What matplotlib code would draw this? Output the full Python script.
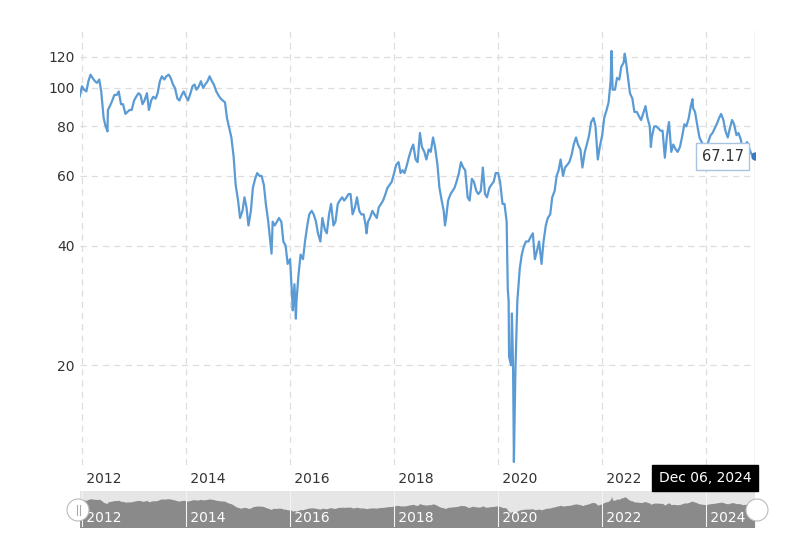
import pandas as pd
import matplotlib
matplotlib.use('Agg')
import matplotlib.pyplot as plt
from matplotlib.patches import Ellipse
from matplotlib.ticker import NullLocator, FixedLocator
import matplotlib.transforms as mtransforms

# price on the 1st and 15th of each month
price_2011 = [95]
price_2012 = [101, 99, 98, 104, 108, 106, 104, 103, 105, 98, 84, 80,
              88, 90, 93, 96, 96, 98, 91, 91, 86, 87, 88, 88]
price_2013 = [93, 95, 97, 96, 91, 93, 97, 88, 93, 95, 94, 97,
              104, 107, 105, 107, 108, 106, 102, 100, 94, 93, 96, 98]
price_2014 = [95, 93, 97, 101, 102, 99, 101, 104, 100, 102, 104, 107,
              104, 102, 98, 96, 94, 93, 92, 84, 79, 75, 67, 57]
price_2015 = [52, 47, 49, 53, 50, 45, 49, 56, 59, 61, 60, 60,
              57, 51, 46, 41, 46, 45, 46, 47, 46, 41, 40, 36]
price_2016 = [37, 30, 32, 29, 34, 38, 37, 41, 45, 48, 49, 48,
              46, 43, 41, 47, 44, 43, 48, 51, 45, 46, 51, 52]
price_2017 = [53, 52, 53, 54, 54, 48, 50, 53, 49, 48, 48, 45,
              46, 47, 49, 48, 47, 50, 51, 52, 54, 56, 57, 58]
price_2018 = [61, 64, 65, 61, 62, 61, 64, 67, 70, 72, 66, 65,
              77, 71, 69, 66, 70, 69, 75, 71, 64, 56, 52, 49]
price_2019 = [47, 52, 54, 55, 56, 58, 61, 65, 63, 62, 53, 52,
              59, 58, 55, 54, 55, 62, 54, 53, 56, 57, 58, 61]
price_2020 = [61, 58, 51, 51, 46, 29, 20, 20, 19, 29, 35, 38,
              40, 41, 41, 42, 43, 37, 39, 41, 36, 41, 45, 47]
price_2021 = [48, 53, 55, 60, 62, 66, 60, 63, 64, 65, 68, 72,
              75, 72, 70, 63, 69, 72, 76, 82, 84, 80, 66, 71]
price_2022 = [76, 84, 88, 92, 104, 99, 99, 106, 105, 113, 116, 118,
              106, 97, 94, 87, 87, 85, 83, 86, 90, 84, 80, 75]
price_2023 = [80, 80, 79, 78, 78, 68, 76, 82, 69, 72, 70, 69,
              71, 75, 81, 80, 84, 90, 89, 87, 80, 75, 73, 71]
price_2024 = [71, 73, 76, 77, 79, 81, 84, 86, 83, 78, 75, 79,
              83, 81, 76, 77, 74, 69, 72, 73, 70, 68, 68]

# sharp highs and lows that fall between the sample dates
spike_dates = ['2012-06-28', '2015-08-24', '2016-01-20', '2016-02-11',
               '2017-06-21', '2018-12-24', '2019-09-16', '2020-03-09',
               '2020-03-18', '2020-04-07', '2020-04-21', '2022-03-08',
               '2022-06-08', '2022-12-09', '2023-03-17', '2023-09-27']
spike_vals = [77.7, 38.2, 27.5, 26.2, 43, 45, 63, 31,
              21, 27, 11.4, 124, 122, 71, 66.7, 93.7]

last_date = '2024-12-06'
last_price = 67.17

y_ticks = [20, 40, 60, 80, 100, 120]
year_ticks = [2012, 2014, 2016, 2018, 2020, 2022, 2024]

values = (price_2011 + price_2012 + price_2013 + price_2014 + price_2015 +
          price_2016 + price_2017 + price_2018 + price_2019 + price_2020 +
          price_2021 + price_2022 + price_2023 + price_2024)
dates = pd.date_range('2011-12-15', '2024-12-01', freq='SMS')
series = pd.Series(values, index=dates)
extra = pd.Series(spike_vals + [last_price],
                  index=pd.to_datetime(spike_dates + [last_date]))
series = pd.concat([series, extra]).sort_index()

line_color = '#5b9bd5'
grid_color = '#dddddd'
x_min = pd.Timestamp('2011-12-18')
x_max = pd.Timestamp('2024-12-09')

fig = plt.figure(figsize=(8, 5.5), dpi=100)

# main chart
ax = fig.add_axes([80 / 800, 1 - 465 / 550, 675 / 800, 435 / 550])
ax.plot(series.index, series.values, color=line_color, lw=1.6, zorder=3)
ax.set_yscale('log')
ax.set_ylim(11.2, 140)
ax.set_xlim(x_min, x_max)
ax.yaxis.set_major_locator(FixedLocator(y_ticks))
ax.yaxis.set_minor_locator(NullLocator())
ax.set_yticklabels([str(v) for v in y_ticks])
ax.tick_params(axis='y', length=0, pad=4, labelsize=10, labelcolor='#333333')
ax.set_xticks([])
for s in ax.spines.values():
    s.set_visible(False)

for v in y_ticks:
    ax.axhline(v, color=grid_color, lw=0.9, ls=(0, (5, 4)), zorder=1)

trans = mtransforms.blended_transform_factory(ax.transData, ax.transAxes)
for yr in year_ticks:
    d = pd.Timestamp(f'{yr}-01-01')
    ax.axvline(d, color=grid_color, lw=0.9, ls=(0, (5, 4)), zorder=1)
    # the 2024 label sits under the date box in the reference
    if yr != 2024:
        ax.text(d, -0.015, f' {yr}', transform=trans, ha='left', va='top',
                fontsize=10, color='#333333')

# hover crosshair, marker and tooltip
ax.axvline(pd.Timestamp(last_date), color='#cccccc', lw=1, zorder=2)
ax.plot(pd.Timestamp(last_date), last_price, 'o', ms=5, color='#3a78c2', zorder=4)
ax.annotate(f'{last_price:.2f}', xy=(pd.Timestamp(last_date), last_price),
            xytext=(-32, 0), textcoords='offset pixels', ha='center', va='center',
            fontsize=10.5, color='#333333', zorder=5,
            bbox=dict(boxstyle='square,pad=0.4', fc='white', ec='#a9c4e0', lw=1))

fig.text(705 / 800, 1 - 478 / 550, 'Dec 06, 2024', ha='center', va='center',
         fontsize=10, color='white',
         bbox=dict(boxstyle='square,pad=0.45', fc='black', ec='black'))

# navigator strip
nav = fig.add_axes([80 / 800, 1 - 527 / 550, 675 / 800, 36 / 550])
nav.set_facecolor('#e6e6e6')
nav.fill_between(series.index, series.values, -80, color='#8a8a8a', lw=0)
nav.set_ylim(-75, 158)
nav.set_xlim(x_min, x_max)
nav.set_xticks([])
nav.set_yticks([])
for s in nav.spines.values():
    s.set_visible(False)
ntrans = mtransforms.blended_transform_factory(nav.transData, nav.transAxes)
for yr in year_ticks:
    d = pd.Timestamp(f'{yr}-01-01')
    nav.axvline(d, color='#f4f4f4', lw=0.8)
    nav.text(d, 0.25, f' {yr}', transform=ntrans, ha='left', va='center',
             fontsize=10, color='white')

# navigator handles
for cx in (78, 757):
    fig.patches.append(Ellipse((cx / 800, 1 - 510 / 550), 22 / 800, 22 / 550,
                               transform=fig.transFigure, fc='white',
                               ec='#bbbbbb', lw=0.8, zorder=10))
for gx in (76.5, 79.5):
    fig.lines.append(plt.Line2D([gx / 800, gx / 800], [1 - 505 / 550, 1 - 515 / 550],
                                transform=fig.transFigure, color='#aaaaaa',
                                lw=0.8, zorder=11))

fig.savefig('out.png', dpi=100)
